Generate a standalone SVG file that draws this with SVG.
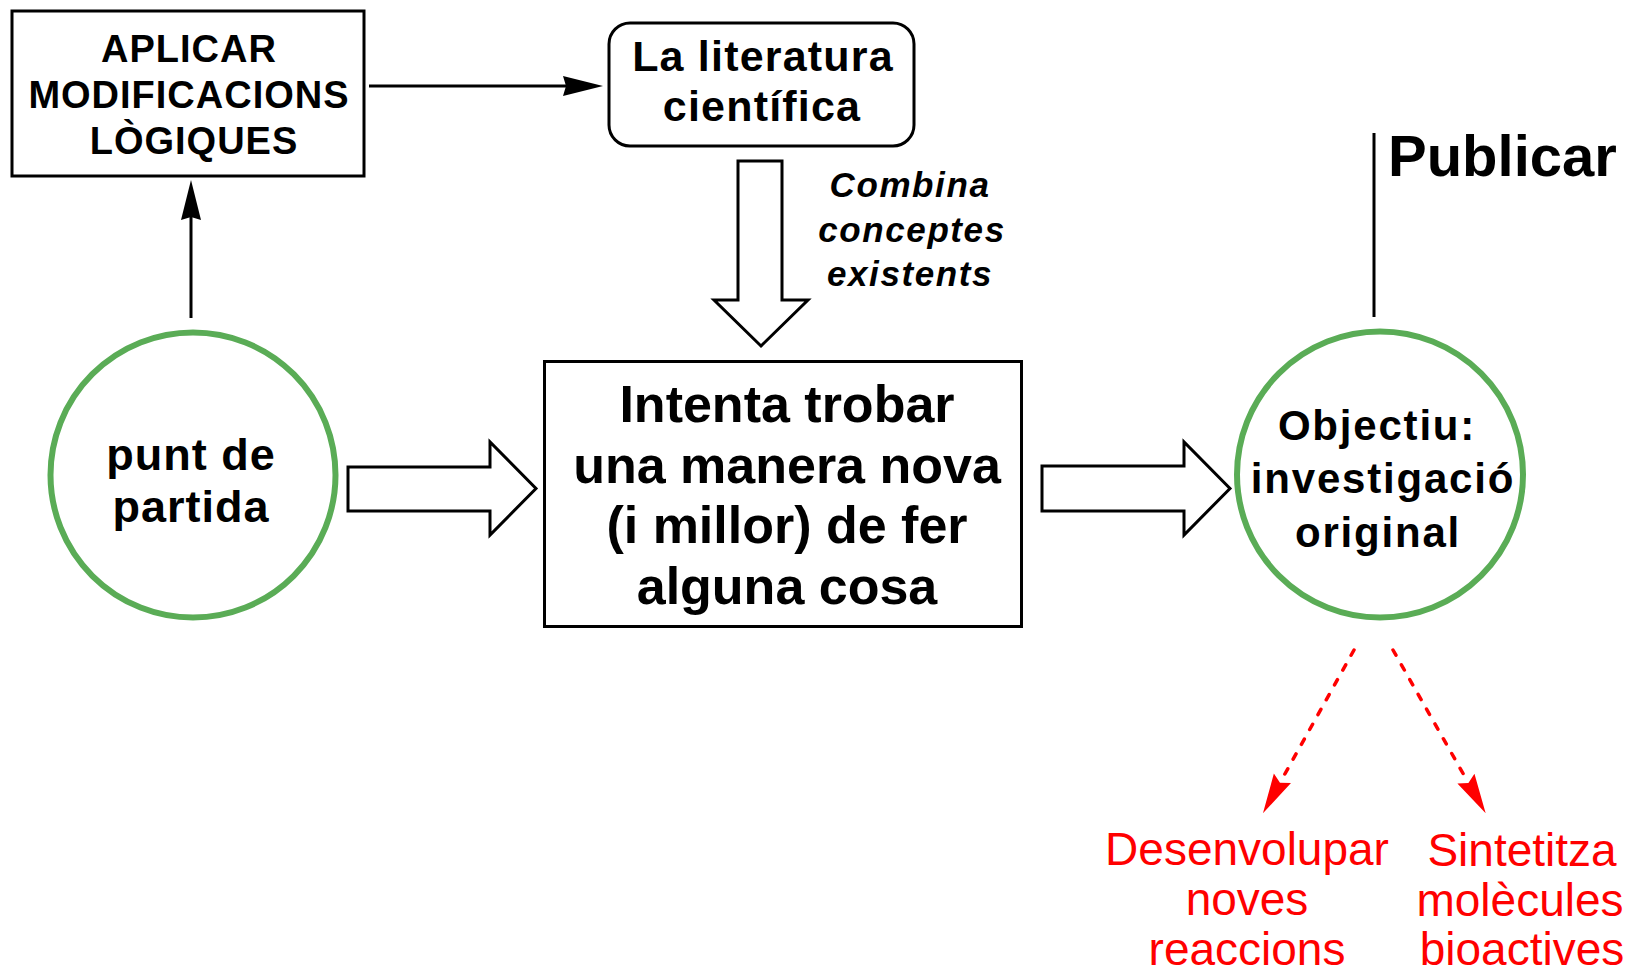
<svg xmlns="http://www.w3.org/2000/svg" width="1629" height="976" viewBox="0 0 1629 976">
<style>
  .box { fill: #ffffff; stroke: #000000; stroke-width: 3; }
  .hollow { fill: #ffffff; stroke: #000000; stroke-width: 3; stroke-linejoin: miter; }
  .ring { fill: #ffffff; stroke: #5aac56; stroke-width: 6; }
  .bold { font-family: "Liberation Sans", Arial, sans-serif; font-weight: bold; fill: #000000; text-anchor: middle; }
  .ital { font-family: "Liberation Sans", Arial, sans-serif; font-weight: bold; font-style: italic; fill: #000000; text-anchor: middle; font-size: 35px; letter-spacing: 1.6px; }
  .red { font-family: "Liberation Sans", Arial, sans-serif; fill: #ff0000; text-anchor: middle; font-size: 46px; }
  .link { stroke: #000000; stroke-width: 3; fill: none; }
  .dash { stroke: #ff0000; stroke-width: 3.5; fill: none; stroke-dasharray: 6 11; stroke-linecap: round; }
</style>
<defs>
  <marker id="blackHead" markerUnits="userSpaceOnUse" markerWidth="40" markerHeight="20" refX="3" refY="10" orient="auto" overflow="visible">
    <path d="M0,0 L40,10 L0,20 L3,10 Z" fill="#000000"/>
  </marker>
  <marker id="redHead" markerUnits="userSpaceOnUse" markerWidth="40" markerHeight="20" refX="5" refY="10" orient="auto" overflow="visible">
    <path d="M0,0.2 L40,10 L0,19.8 L5,10 Z" fill="#ff0000"/>
  </marker>
</defs>
<rect width="1629" height="976" fill="#ffffff"/>

<g id="connectors">
  <line class="link" x1="191" y1="318" x2="191" y2="217" marker-end="url(#blackHead)"/>
  <line class="link" x1="369" y1="86" x2="566" y2="86" marker-end="url(#blackHead)"/>
  <path id="arrow-down" class="hollow" d="M738,161 L782,161 L782,300 L808,300 L761,346 L714,300 L738,300 Z"/>
  <path id="arrow-right-1" class="hollow" d="M348,467 L490,467 L490,442 L536,488.5 L490,535 L490,511 L348,511 Z"/>
  <path id="arrow-right-2" class="hollow" d="M1042,466 L1184,466 L1184,442 L1230,488.5 L1184,535 L1184,511 L1042,511 Z"/>
  <line class="link" x1="1374" y1="133" x2="1374" y2="317"/>
  <line class="dash" x1="1354" y1="650" x2="1280" y2="782.7" marker-end="url(#redHead)"/>
  <line class="dash" x1="1393" y1="650" x2="1468.4" y2="782.9" marker-end="url(#redHead)"/>
</g>

<g id="node-aplicar">
  <rect class="box" x="12" y="11" width="352" height="165"/>
  <text class="bold" font-size="38" letter-spacing="1" x="189" y="62">APLICAR</text>
  <text class="bold" font-size="38" letter-spacing="1" x="189" y="107.5">MODIFICACIONS</text>
  <text class="bold" font-size="38" letter-spacing="1" x="194" y="154">LÒGIQUES</text>
</g>

<g id="node-literatura">
  <rect class="box" x="609" y="23" width="305" height="123" rx="21" ry="21"/>
  <text class="bold" font-size="43" letter-spacing="1.2" x="763" y="71">La literatura</text>
  <text class="bold" font-size="43" letter-spacing="1.2" x="762" y="121">científica</text>
</g>

<g id="label-combina">
  <text class="ital" x="910" y="197">Combina</text>
  <text class="ital" x="912" y="242">conceptes</text>
  <text class="ital" x="910" y="286">existents</text>
</g>

<g id="node-punt">
  <circle class="ring" cx="193" cy="475" r="142.5"/>
  <text class="bold" font-size="45" letter-spacing="1" x="191" y="470">punt de</text>
  <text class="bold" font-size="45" letter-spacing="1" x="191" y="522">partida</text>
</g>

<g id="node-intenta">
  <rect class="box" x="544.5" y="361.5" width="477" height="265"/>
  <text class="bold" font-size="52" x="787" y="422">Intenta trobar</text>
  <text class="bold" font-size="52" x="787" y="483">una manera nova</text>
  <text class="bold" font-size="52" x="787" y="543">(i millor) de fer</text>
  <text class="bold" font-size="52" x="787" y="603.5">alguna cosa</text>
</g>

<g id="node-objectiu">
  <circle class="ring" cx="1380" cy="474.5" r="143"/>
  <text class="bold" font-size="42" letter-spacing="1.8" x="1377" y="440">Objectiu:</text>
  <text class="bold" font-size="42" letter-spacing="1.8" x="1383" y="493">investigació</text>
  <text class="bold" font-size="42" letter-spacing="1.8" x="1378" y="547">original</text>
</g>

<g id="label-publicar">
  <text class="bold" font-size="58" style="text-anchor: start" x="1388" y="176">Publicar</text>
</g>

<g id="node-desenvolupar">
  <text class="red" x="1247" y="865">Desenvolupar</text>
  <text class="red" x="1247" y="915">noves</text>
  <text class="red" x="1247" y="965">reaccions</text>
</g>

<g id="node-sintetitza">
  <text class="red" x="1522" y="866">Sintetitza</text>
  <text class="red" x="1520" y="916">molècules</text>
  <text class="red" x="1522" y="965">bioactives</text>
</g>
</svg>
